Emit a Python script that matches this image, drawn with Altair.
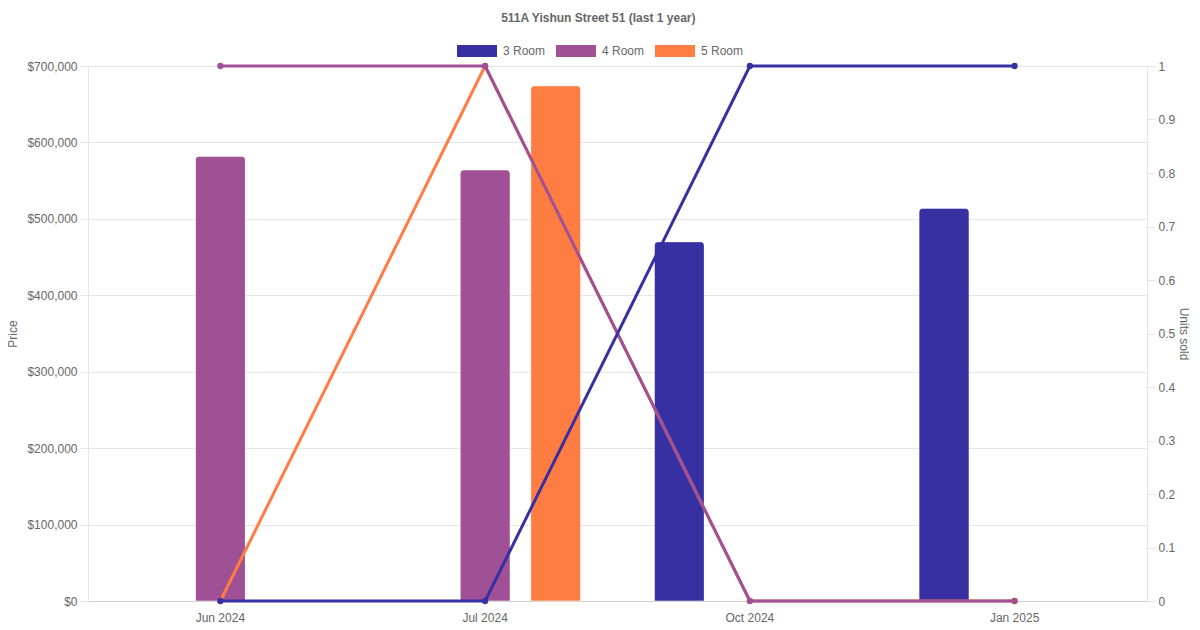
import altair as alt
import pandas as pd

months = ["Jun 2024", "Jul 2024", "Oct 2024", "Jan 2025"]
series = ["3 Room", "4 Room", "5 Room"]
colors = ["#3730a3", "#a05195", "#ff7c43"]

price_3_room = [None, None, 470000, 514000]
price_4_room = [582000, 564000, None, None]
price_5_room = [None, 674000, None, None]

units_3_room = [0, 0, 1, 1]
units_4_room = [1, 1, 0, 0]
units_5_room = [0, 1, 0, 0]

price_ticks = [0, 100000, 200000, 300000, 400000, 500000, 600000, 700000]
unit_ticks = [0, 0.1, 0.2, 0.3, 0.4, 0.5, 0.6, 0.7, 0.8, 0.9, 1]

rows = []
for s, prices, units in zip(series,
                            [price_3_room, price_4_room, price_5_room],
                            [units_3_room, units_4_room, units_5_room]):
    for m, p, u in zip(months, prices, units):
        rows.append({"month": m, "series": s, "price": p, "units": u})
df = pd.DataFrame(rows)

FONT = "Liberation Sans"
GREY = "#666666"
LINE = "#e5e5e5"

color_scale = alt.Scale(domain=series, range=colors)
x_scale = alt.Scale(domain=months, paddingInner=0, paddingOuter=0)
x_axis = alt.Axis(title=None, labelAngle=0, ticks=False, grid=False,
                  domainColor="#d0d0d0", labelPadding=11, labelColor=GREY,
                  labelFontSize=12, labelFont=FONT)

base = alt.Chart(df)

bars = base.transform_filter("isValid(datum.price)").mark_bar(
    cornerRadiusTopLeft=4, cornerRadiusTopRight=4,
    stroke="white", strokeOpacity=0.3, strokeWidth=1
).encode(
    x=alt.X("month:N", scale=x_scale, axis=x_axis),
    xOffset=alt.XOffset("series:N",
                        scale=alt.Scale(domain=series, paddingInner=0.292, paddingOuter=0.521)),
    y=alt.Y("price:Q", scale=alt.Scale(domain=[0, 700000]),
            axis=alt.Axis(title="Price", orient="left", values=price_ticks, format="$,.0f",
                          labelColor=GREY, labelFontSize=12, labelFont=FONT,
                          tickColor=LINE, tickSize=8, labelPadding=3,
                          domainColor=LINE, gridColor=LINE, grid=True,
                          titleColor=GREY, titleFontSize=12, titleFont=FONT,
                          titleFontWeight="normal", titlePadding=7)),
    color=alt.Color("series:N", scale=color_scale,
                    legend=alt.Legend(title=None, orient="none", legendX=369, legendY=-35,
                                      direction="horizontal",
                                      symbolType="M-1,-0.3H1V0.3H-1Z", symbolSize=1600,
                                      symbolStrokeWidth=0, symbolOpacity=1,
                                      labelFontSize=12, labelColor=GREY, labelFont=FONT,
                                      columnPadding=10, labelOffset=6, padding=0)),
)

right_axis = alt.Axis(title="Units sold", orient="right", values=unit_ticks, format="~g",
                      labelColor=GREY, labelFontSize=12, labelFont=FONT,
                      tickColor=LINE, tickSize=8, labelPadding=3,
                      domainColor=LINE, grid=False,
                      titleColor=GREY, titleFontSize=12, titleFont=FONT,
                      titleFontWeight="normal", titlePadding=2)

lines = []
for s in ["5 Room", "4 Room", "3 Room"]:
    lines.append(
        base.transform_filter(alt.datum.series == s).mark_line(
            strokeWidth=3,
            point=alt.OverlayMarkDef(filled=True, size=40, opacity=1),
        ).encode(
            x=alt.X("month:N", scale=x_scale, axis=x_axis),
            y=alt.Y("units:Q", scale=alt.Scale(domain=[0, 1]), axis=right_axis),
            color=alt.Color("series:N", scale=color_scale, legend=None),
        )
    )

chart = alt.layer(bars, alt.layer(*lines)).resolve_scale(y="independent").properties(
    width=1059,
    height=535,
    title=alt.TitleParams(text="511A Yishun Street 51 (last 1 year)", fontSize=12,
                          fontWeight="bold", color=GREY, font=FONT,
                          anchor="middle", frame="bounds", offset=6),
    autosize=alt.AutoSizeParams(type="none"),
    padding={"left": 80, "top": 58, "right": 45, "bottom": 22},
).configure_view(stroke=None)

chart.save("out.html", embed_options={"renderer": "svg", "actions": False})
